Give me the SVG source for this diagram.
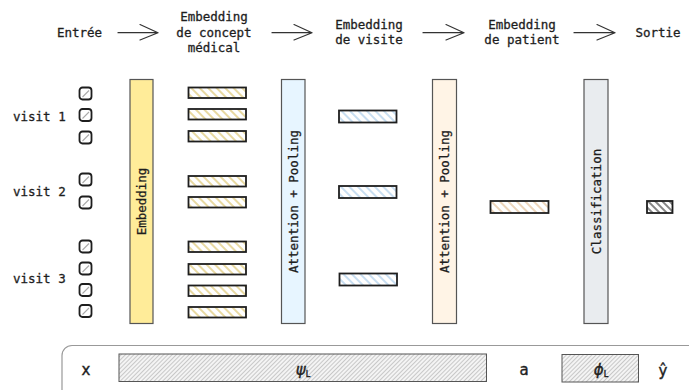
<svg xmlns="http://www.w3.org/2000/svg" width="689" height="390" viewBox="0 0 689 390">
  <style>
    .t { font-family: "DejaVu Sans Mono", "Liberation Mono", monospace; font-size: 12.5px; fill: #1e1e1e; stroke: #1e1e1e; stroke-width: 0.3; }
    .mid { text-anchor: middle; }
    .bar { stroke: #555; stroke-width: 1.2; }
    .vec { stroke: #1e1e1e; stroke-width: 1.8; }
    .tok { fill: #fff; stroke: #1e1e1e; stroke-width: 1.8; }
    .tokline { stroke: #aaa; stroke-width: 1.1; }
    .arrow { fill: none; stroke: #333; stroke-width: 1.2; stroke-linecap: round; stroke-linejoin: round; }
    .sym { font-family: "DejaVu Sans", "Liberation Sans", sans-serif; font-size: 15px; fill: #1e1e1e; stroke: #1e1e1e; stroke-width: 0.4; }
  </style>
  <defs>
    <pattern id="hatch-yellow" patternUnits="userSpaceOnUse" width="6" height="6" patternTransform="rotate(-45)">
      <rect width="6" height="6" fill="#fff"/>
      <line x1="1" y1="0" x2="1" y2="6" stroke="#d9c063" stroke-width="1.2"/>
    </pattern>
    <pattern id="hatch-blue" patternUnits="userSpaceOnUse" width="6" height="6" patternTransform="rotate(-45)">
      <rect width="6" height="6" fill="#fff"/>
      <line x1="1" y1="0" x2="1" y2="6" stroke="#a3c8e8" stroke-width="1.2"/>
    </pattern>
    <pattern id="hatch-orange" patternUnits="userSpaceOnUse" width="6" height="6" patternTransform="rotate(-45)">
      <rect width="6" height="6" fill="#fff"/>
      <line x1="1" y1="0" x2="1" y2="6" stroke="#e0b98e" stroke-width="1.2"/>
    </pattern>
    <pattern id="hatch-black" patternUnits="userSpaceOnUse" width="5" height="5" patternTransform="rotate(-45)">
      <rect width="5" height="5" fill="#fff"/>
      <line x1="1" y1="0" x2="1" y2="5" stroke="#333" stroke-width="1.2"/>
    </pattern>
    <pattern id="hatch-grey" patternUnits="userSpaceOnUse" width="3" height="3" patternTransform="rotate(45)">
      <rect width="3" height="3" fill="#f4f4f4"/>
      <line x1="0.5" y1="0" x2="0.5" y2="3" stroke="#bdbdbd" stroke-width="0.8"/>
    </pattern>
  </defs>

  <rect width="689" height="390" fill="#fff"/>

  <!-- header: pipeline stages -->
  <g id="stage-input">
    <text class="t mid" x="79.5" y="37">Entrée</text>
  </g>
  <g id="stage-concept">
    <text class="t mid" x="214" y="21">Embedding</text>
    <text class="t mid" x="214" y="37">de concept</text>
    <text class="t mid" x="214" y="52">médical</text>
  </g>
  <g id="stage-visit">
    <text class="t mid" x="369" y="29">Embedding</text>
    <text class="t mid" x="369" y="44">de visite</text>
  </g>
  <g id="stage-patient">
    <text class="t mid" x="522" y="29">Embedding</text>
    <text class="t mid" x="522" y="44">de patient</text>
  </g>
  <g id="stage-output">
    <text class="t mid" x="658" y="37">Sortie</text>
  </g>

  <g id="connectors">
    <path class="arrow" d="M118 32.7 L158 32.7 M140 24.5 L158 32.7 L140 40"/>
    <path class="arrow" d="M272 32.7 L312 32.7 M294 24.5 L312 32.7 L294 40"/>
    <path class="arrow" d="M423 32.7 L464 32.7 M446 24.5 L464 32.7 L446 40"/>
    <path class="arrow" d="M574 32.7 L615 32.7 M597 24.5 L615 32.7 L597 40"/>
  </g>

  <!-- visit labels -->
  <g id="visit-labels">
    <text class="t" x="13" y="121">visit 1</text>
    <text class="t" x="13" y="196">visit 2</text>
    <text class="t" x="13" y="282.5">visit 3</text>
  </g>

  <!-- input medical codes -->
  <g id="codes">
    <g transform="translate(79.5,87.5)"><rect class="tok" width="12" height="12" rx="3"/><line class="tokline" x1="3" y1="9.5" x2="9.5" y2="3"/></g>
    <g transform="translate(79.5,109)"><rect class="tok" width="12" height="12" rx="3"/><line class="tokline" x1="3" y1="9.5" x2="9.5" y2="3"/></g>
    <g transform="translate(79.5,131.5)"><rect class="tok" width="12" height="12" rx="3"/><line class="tokline" x1="3" y1="9.5" x2="9.5" y2="3"/></g>
    <g transform="translate(79.5,173.5)"><rect class="tok" width="12" height="12" rx="3"/><line class="tokline" x1="3" y1="9.5" x2="9.5" y2="3"/></g>
    <g transform="translate(79.5,196.5)"><rect class="tok" width="12" height="12" rx="3"/><line class="tokline" x1="3" y1="9.5" x2="9.5" y2="3"/></g>
    <g transform="translate(79.5,240.5)"><rect class="tok" width="12" height="12" rx="3"/><line class="tokline" x1="3" y1="9.5" x2="9.5" y2="3"/></g>
    <g transform="translate(79.5,262.5)"><rect class="tok" width="12" height="12" rx="3"/><line class="tokline" x1="3" y1="9.5" x2="9.5" y2="3"/></g>
    <g transform="translate(79.5,284)"><rect class="tok" width="12" height="12" rx="3"/><line class="tokline" x1="3" y1="9.5" x2="9.5" y2="3"/></g>
    <g transform="translate(79.5,305)"><rect class="tok" width="12" height="12" rx="3"/><line class="tokline" x1="3" y1="9.5" x2="9.5" y2="3"/></g>
  </g>

  <!-- embedding layer -->
  <g id="embedding-layer">
    <rect class="bar" x="130" y="79.5" width="23" height="244" fill="#ffec99"/>
    <text class="t mid" transform="translate(146,201.5) rotate(-90)">Embedding</text>
  </g>

  <!-- medical concept embeddings -->
  <g id="concept-embeddings">
    <rect class="vec" x="188.5" y="87.5" width="57.5" height="10.5" fill="url(#hatch-yellow)"/>
    <rect class="vec" x="188.5" y="109" width="57.5" height="10.5" fill="url(#hatch-yellow)"/>
    <rect class="vec" x="188.5" y="131" width="57.5" height="10.5" fill="url(#hatch-yellow)"/>
    <rect class="vec" x="188.5" y="176" width="57.5" height="10.5" fill="url(#hatch-yellow)"/>
    <rect class="vec" x="188.5" y="197" width="57.5" height="10.5" fill="url(#hatch-yellow)"/>
    <rect class="vec" x="188.5" y="241.5" width="57.5" height="10.5" fill="url(#hatch-yellow)"/>
    <rect class="vec" x="188.5" y="264" width="57.5" height="10.5" fill="url(#hatch-yellow)"/>
    <rect class="vec" x="188.5" y="285.5" width="57.5" height="10.5" fill="url(#hatch-yellow)"/>
    <rect class="vec" x="188.5" y="307" width="57.5" height="10.5" fill="url(#hatch-yellow)"/>
  </g>

  <!-- visit-level attention -->
  <g id="visit-attention">
    <rect class="bar" x="281.5" y="79.5" width="23.5" height="244" fill="#e7f5ff"/>
    <text class="t mid" transform="translate(297.5,201.5) rotate(-90)">Attention + Pooling</text>
  </g>

  <!-- visit embeddings -->
  <g id="visit-embeddings">
    <rect class="vec" x="339" y="110.5" width="57.5" height="12" fill="url(#hatch-blue)"/>
    <rect class="vec" x="339" y="186" width="57.5" height="12" fill="url(#hatch-blue)"/>
    <rect class="vec" x="339.5" y="273.5" width="57.5" height="12" fill="url(#hatch-blue)"/>
  </g>

  <!-- patient-level attention -->
  <g id="patient-attention">
    <rect class="bar" x="432.5" y="79.5" width="24" height="244" fill="#fff4e6"/>
    <text class="t mid" transform="translate(449,201.5) rotate(-90)">Attention + Pooling</text>
  </g>

  <!-- patient embedding -->
  <g id="patient-embedding">
    <rect class="vec" x="490.5" y="201" width="58" height="12" fill="url(#hatch-orange)"/>
  </g>

  <!-- classifier -->
  <g id="classifier">
    <rect class="bar" x="584" y="79.5" width="24" height="244" fill="#e9ecef"/>
    <text class="t mid" transform="translate(600.5,201.5) rotate(-90)">Classification</text>
  </g>

  <!-- prediction -->
  <g id="prediction">
    <rect class="vec" x="647" y="201" width="25.5" height="12" fill="url(#hatch-black)"/>
  </g>

  <!-- notation strip -->
  <g id="notation">
    <rect x="62" y="345.5" width="660" height="70" rx="10" fill="none" stroke="#999" stroke-width="1.2"/>
    <text class="sym mid" x="86" y="375">x</text>
    <rect x="119" y="354" width="367.5" height="27.5" fill="url(#hatch-grey)" stroke="#555" stroke-width="1"/>
    <text class="sym mid" x="303" y="375" font-style="italic" font-size="14">ψ<tspan font-size="8" dy="2" font-style="normal">L</tspan></text>
    <text class="sym mid" x="524" y="375">a</text>
    <rect x="562" y="354.5" width="76.5" height="27.5" fill="url(#hatch-grey)" stroke="#555" stroke-width="1"/>
    <text class="sym mid" x="601" y="375" font-style="italic" font-size="14">ϕ<tspan font-size="8" dy="2" font-style="normal">L</tspan></text>
    <text class="sym mid" x="663" y="376" font-size="16">ŷ</text>
  </g>
</svg>
